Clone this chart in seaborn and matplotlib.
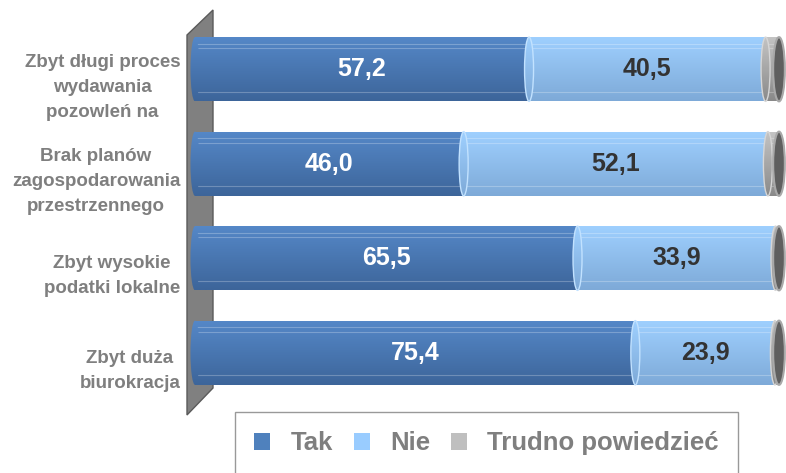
import numpy as np
import pandas as pd
import matplotlib
matplotlib.use("Agg")
import matplotlib.pyplot as plt
import matplotlib.transforms as mtransforms
from matplotlib.patches import Patch, Polygon, Ellipse
import seaborn as sns

# Data
categories = [
    "Zbyt długi proces\nwydawania\npozowleń na",
    "Brak planów\nzagospodarowania\nprzestrzennego",
    "Zbyt wysokie\npodatki lokalne",
    "Zbyt duża\nbiurokracja",
]
tak = [57.2, 46.0, 65.5, 75.4]
nie = [40.5, 52.1, 33.9, 23.9]
trudno = [2.3, 1.9, 0.6, 0.7]
series_names = ["Tak", "Nie", "Trudno powiedzieć"]

colors = {"Tak": "#4f81bd", "Nie": "#99ccff", "Trudno powiedzieć": "#bfbfbf"}
grad = {
    "Tak": ("#5588c8", "#3d659a"),
    "Nie": ("#9fd0ff", "#7eaad8"),
    "Trudno powiedzieć": ("#c4c4c4", "#8a8a8a"),
}
rim = {"Tak": None, "Nie": "#c2e2ff", "Trudno powiedzieć": "#d6d6d6"}

df = pd.DataFrame({"cat": categories, "Tak": tak, "Nie": nie, "Trudno": trudno})
df["c_tak"] = df["Tak"]
df["c_nie"] = df["Tak"] + df["Nie"]
df["c_all"] = df["Tak"] + df["Nie"] + df["Trudno"]

sns.set_style("white")
plt.rcParams["font.family"] = ["Liberation Sans", "DejaVu Sans"]

fig = plt.figure(figsize=(7.86, 4.73), dpi=100)
W, H = 786, 473
ax = fig.add_axes([190 / W, 1 - 400 / H, (W - 190) / W, (400 - 22) / H])
ax.patch.set_alpha(0)

# gray 3D "wall" behind the bars
wall = Polygon([(187 / W, 1 - 35 / H), (213 / W, 1 - 10 / H), (213 / W, 1 - 388 / H), (187 / W, 1 - 415 / H)],
               closed=True, transform=fig.transFigure, facecolor="#808080",
               edgecolor="#5a5a5a", lw=1, zorder=-1)
fig.add_artist(wall)

layers = [("c_all", "Trudno powiedzieć"), ("c_nie", "Nie"), ("c_tak", "Tak")]
for col, name in layers:
    sns.barplot(data=df, x=col, y="cat", order=categories, color=colors[name],
                width=0.68, ax=ax, saturation=1, edgecolor="none")

n = len(categories)
ppu = 5.84  # pixels per percent
xmin = -5 / ppu
xmax = xmin + ax.bbox.width / ppu
ax.set_xlim(xmin, xmax)
ax.set_ylim(n - 0.5, -0.5)


def gradient_fill(shape, name, z, x0, x1, y0, y1):
    top, bot = grad[name]
    c1 = np.array(matplotlib.colors.to_rgb(top))
    c2 = np.array(matplotlib.colors.to_rgb(bot))
    t = np.linspace(0, 1, 64)[:, None]
    img = (c1 * (1 - t) + c2 * t)[:, None, :]
    im = ax.imshow(img, extent=(x0, x1, y1, y0), aspect="auto", zorder=z,
                   interpolation="bilinear")
    im.set_clip_path(shape)


zbar = {"Trudno powiedzieć": 2.0, "Nie": 2.1, "Tak": 2.2}
zcap = {"Tak": 2.3, "Nie": 2.4, "Trudno powiedzieć": 2.5}
cap_w = 9 / ppu
patches = list(ax.patches)
for i, p in enumerate(patches):
    name = layers[i // n][1]
    x0, y0 = p.get_x(), p.get_y()
    w, h = p.get_width(), p.get_height()
    p.set_visible(False)
    # body
    body = plt.Rectangle((x0, y0), w, h, transform=ax.transData)
    gradient_fill(body, name, zbar[name], x0 - cap_w, x0 + w + cap_w, y0, y0 + h)
    for fy in (0.1, 0.17, 0.85):
        ax.plot([x0, x0 + w], [y0 + h * fy] * 2, color="white", alpha=0.25, lw=0.8,
                zorder=zbar[name] + 0.01, solid_capstyle="butt")

# left caps of each segment (start of the segment), so they bulge into the previous one
starts = {"Tak": [0] * n, "Nie": tak,
          "Trudno powiedzieć": [a + b for a, b in zip(tak, nie)]}
for i, p in enumerate(patches[:n]):
    y0, h = p.get_y(), p.get_height()
    yc = y0 + h / 2
    for name in series_names:
        xs = starts[name][i]
        cap = Ellipse((xs, yc), cap_w, h, transform=ax.transData)
        gradient_fill(cap, name, zcap[name], xs - cap_w, xs + cap_w, y0, y0 + h)
        if rim[name]:
            ax.add_patch(Ellipse((xs, yc), cap_w, h, facecolor="none", edgecolor=rim[name],
                                 lw=1, zorder=zcap[name] + 0.01))
    # dark end face of the cylinder
    xe = p.get_x() + p.get_width()
    ax.add_patch(Ellipse((xe, yc), cap_w * 1.3, h, facecolor="#5f5f5f", edgecolor="#a9a9a9",
                         lw=1.5, zorder=2.6))

# value labels
for i in range(n):
    ax.text(tak[i] / 2, i, f"{tak[i]:.1f}".replace(".", ","), ha="center", va="center",
            color="white", fontsize=18, fontweight="bold", zorder=10)
    ax.text(tak[i] + nie[i] / 2, i, f"{nie[i]:.1f}".replace(".", ","), ha="center", va="center",
            color="#333333", fontsize=18, fontweight="bold", zorder=10)

ax.set_xlabel("")
ax.set_ylabel("")
ax.set_xticks([])
ax.tick_params(axis="y", length=0, pad=7)
offset = mtransforms.ScaledTranslation(0, -12 / 100, fig.dpi_scale_trans)
for lbl in ax.get_yticklabels():
    lbl.set_fontsize(13.5)
    lbl.set_fontweight("bold")
    lbl.set_color("#7f7f7f")
    lbl.set_multialignment("center")
    lbl.set_linespacing(1.62)
    lbl.set_transform(lbl.get_transform() + offset)
sns.despine(ax=ax, left=True, bottom=True)

handles = [Patch(facecolor=colors[s], edgecolor="none") for s in series_names]
leg = fig.legend(handles, series_names, loc="upper left", bbox_to_anchor=(235 / W, 1 - 412 / H),
                 ncol=3, frameon=True, fancybox=False, edgecolor="#808080",
                 prop={"weight": "bold", "size": 18.5}, handlelength=0.62, handleheight=0.62,
                 handletextpad=0.8, columnspacing=0.8, borderpad=0.75, borderaxespad=0)
leg.get_frame().set_linewidth(1)
for t in leg.get_texts():
    t.set_color("#7f7f7f")

fig.savefig("out.png", dpi=100)
